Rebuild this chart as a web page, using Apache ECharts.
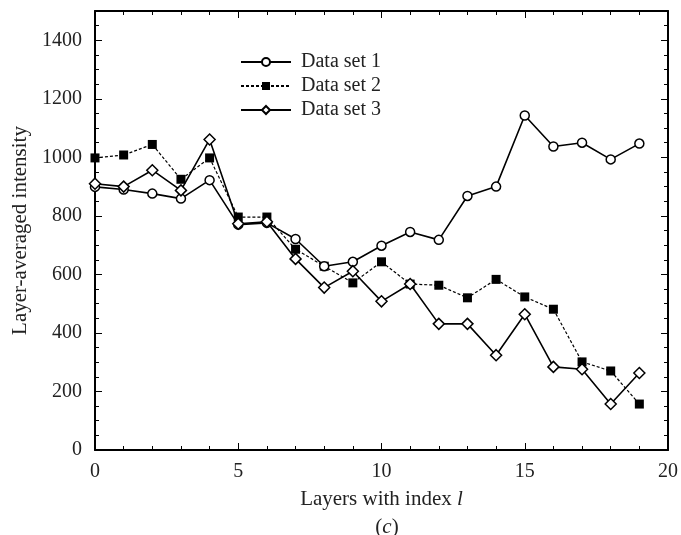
<!DOCTYPE html>
<html>
<head>
<meta charset="utf-8">
<script src="https://cdn.jsdelivr.net/npm/echarts@6/dist/echarts.min.js"></script>
<style>
  html, body { margin: 0; padding: 0; background: #fff; }
  #chart { width: 681px; height: 535px; }
</style>
</head>
<body>
<div id="chart"></div>
<script>
// layer index 0..19
const layers = [0, 1, 2, 3, 4, 5, 6, 7, 8, 9, 10, 11, 12, 13, 14, 15, 16, 17, 18, 19];

// values
const dataSet1 = [899, 890, 876, 859, 922, 770, 776, 721, 628, 643, 698, 745, 718, 868, 900, 1143, 1037, 1050, 993, 1047];
const dataSet2 = [998, 1008, 1044, 925, 998, 796, 796, 686, 628, 571, 643, 567, 563, 520, 583, 523, 481, 301, 270, 157];
const dataSet3 = [910, 900, 956, 887, 1061, 773, 780, 653, 555, 611, 508, 567, 431, 431, 324, 464, 284, 276, 157, 263];

const yTicks = [0, 200, 400, 600, 800, 1000, 1200, 1400];

const font = 'Liberation Serif, Times New Roman, serif';
const ink = '#222';

const toPairs = vals => vals.map((v, i) => [layers[i], v]);

const chart = echarts.init(document.getElementById('chart'));

const tickStyle = { show: true, inside: true, length: 7, lineStyle: { color: '#000', width: 1 } };
const minorStyle = { show: true, length: 4, lineStyle: { color: '#000', width: 1 } };
const lineAxis = { show: true, onZero: false, lineStyle: { color: '#000', width: 2 } };
const italic = { i: { fontFamily: font, fontSize: 21, fontStyle: 'italic', color: ink } };

chart.setOption({
  animation: false,
  backgroundColor: '#fff',
  textStyle: { fontFamily: font },
  grid: { left: 95, right: 10, top: 11, bottom: 85 },
  title: {
    text: '({i|c})',
    left: 382,
    top: 512,
    textAlign: 'center',
    textStyle: {
      fontFamily: font, fontSize: 21, fontWeight: 'normal', color: ink,
      rich: italic
    }
  },
  legend: {
    orient: 'vertical',
    left: 235,
    top: 47,
    itemWidth: 50,
    itemHeight: 10,
    itemGap: 4,
    textStyle: { fontFamily: font, fontSize: 20, color: ink, padding: [0, 0, 0, 5] },
    data: ['Data set 1', 'Data set 2', 'Data set 3']
  },
  xAxis: [{
    type: 'value',
    min: 0,
    max: 20,
    interval: 5,
    name: 'Layers with index {i|l}',
    nameLocation: 'middle',
    nameGap: 39,
    nameTextStyle: { fontFamily: font, fontSize: 21, color: ink, rich: italic },
    axisLine: lineAxis,
    axisTick: tickStyle,
    minorTick: Object.assign({ splitNumber: 5 }, minorStyle),
    splitLine: { show: false },
    axisLabel: { fontFamily: font, fontSize: 20, color: ink, margin: 12 }
  }, {
    type: 'value',
    position: 'top',
    min: 0,
    max: 20,
    interval: 5,
    axisLine: lineAxis,
    axisTick: tickStyle,
    minorTick: Object.assign({ splitNumber: 5 }, minorStyle),
    splitLine: { show: false },
    axisLabel: { show: false }
  }],
  yAxis: [{
    type: 'value',
    min: 0,
    max: 1500,
    interval: 200,
    name: 'Layer-averaged intensity',
    nameLocation: 'middle',
    nameGap: 62,
    nameTextStyle: { fontFamily: font, fontSize: 21, color: ink },
    axisLine: lineAxis,
    axisTick: tickStyle,
    minorTick: Object.assign({ splitNumber: 4 }, minorStyle),
    splitLine: { show: false },
    axisLabel: {
      fontFamily: font, fontSize: 20, color: ink, margin: 13,
      formatter: v => (yTicks.indexOf(v) >= 0 ? String(v) : '')
    }
  }, {
    type: 'value',
    position: 'right',
    min: 0,
    max: 1500,
    interval: 200,
    axisLine: lineAxis,
    axisTick: tickStyle,
    minorTick: Object.assign({ splitNumber: 4 }, minorStyle),
    splitLine: { show: false },
    axisLabel: { show: false }
  }],
  series: [{
    name: 'Data set 1',
    type: 'line',
    data: toPairs(dataSet1),
    symbol: 'circle',
    symbolSize: 9,
    itemStyle: { color: '#fff', borderColor: '#000', borderWidth: 1.5 },
    lineStyle: { color: '#000', width: 1.6 },
    z: 3
  }, {
    name: 'Data set 2',
    type: 'line',
    data: toPairs(dataSet2),
    symbol: 'rect',
    symbolSize: 9,
    itemStyle: { color: '#000', borderColor: '#000', borderWidth: 0 },
    lineStyle: { color: '#000', width: 1.2, type: [3, 2] },
    z: 2
  }, {
    name: 'Data set 3',
    type: 'line',
    data: toPairs(dataSet3),
    symbol: 'diamond',
    symbolSize: 11,
    itemStyle: { color: '#fff', borderColor: '#000', borderWidth: 1.5 },
    lineStyle: { color: '#000', width: 1.6 },
    z: 4
  }]
});
</script>
</body>
</html>
